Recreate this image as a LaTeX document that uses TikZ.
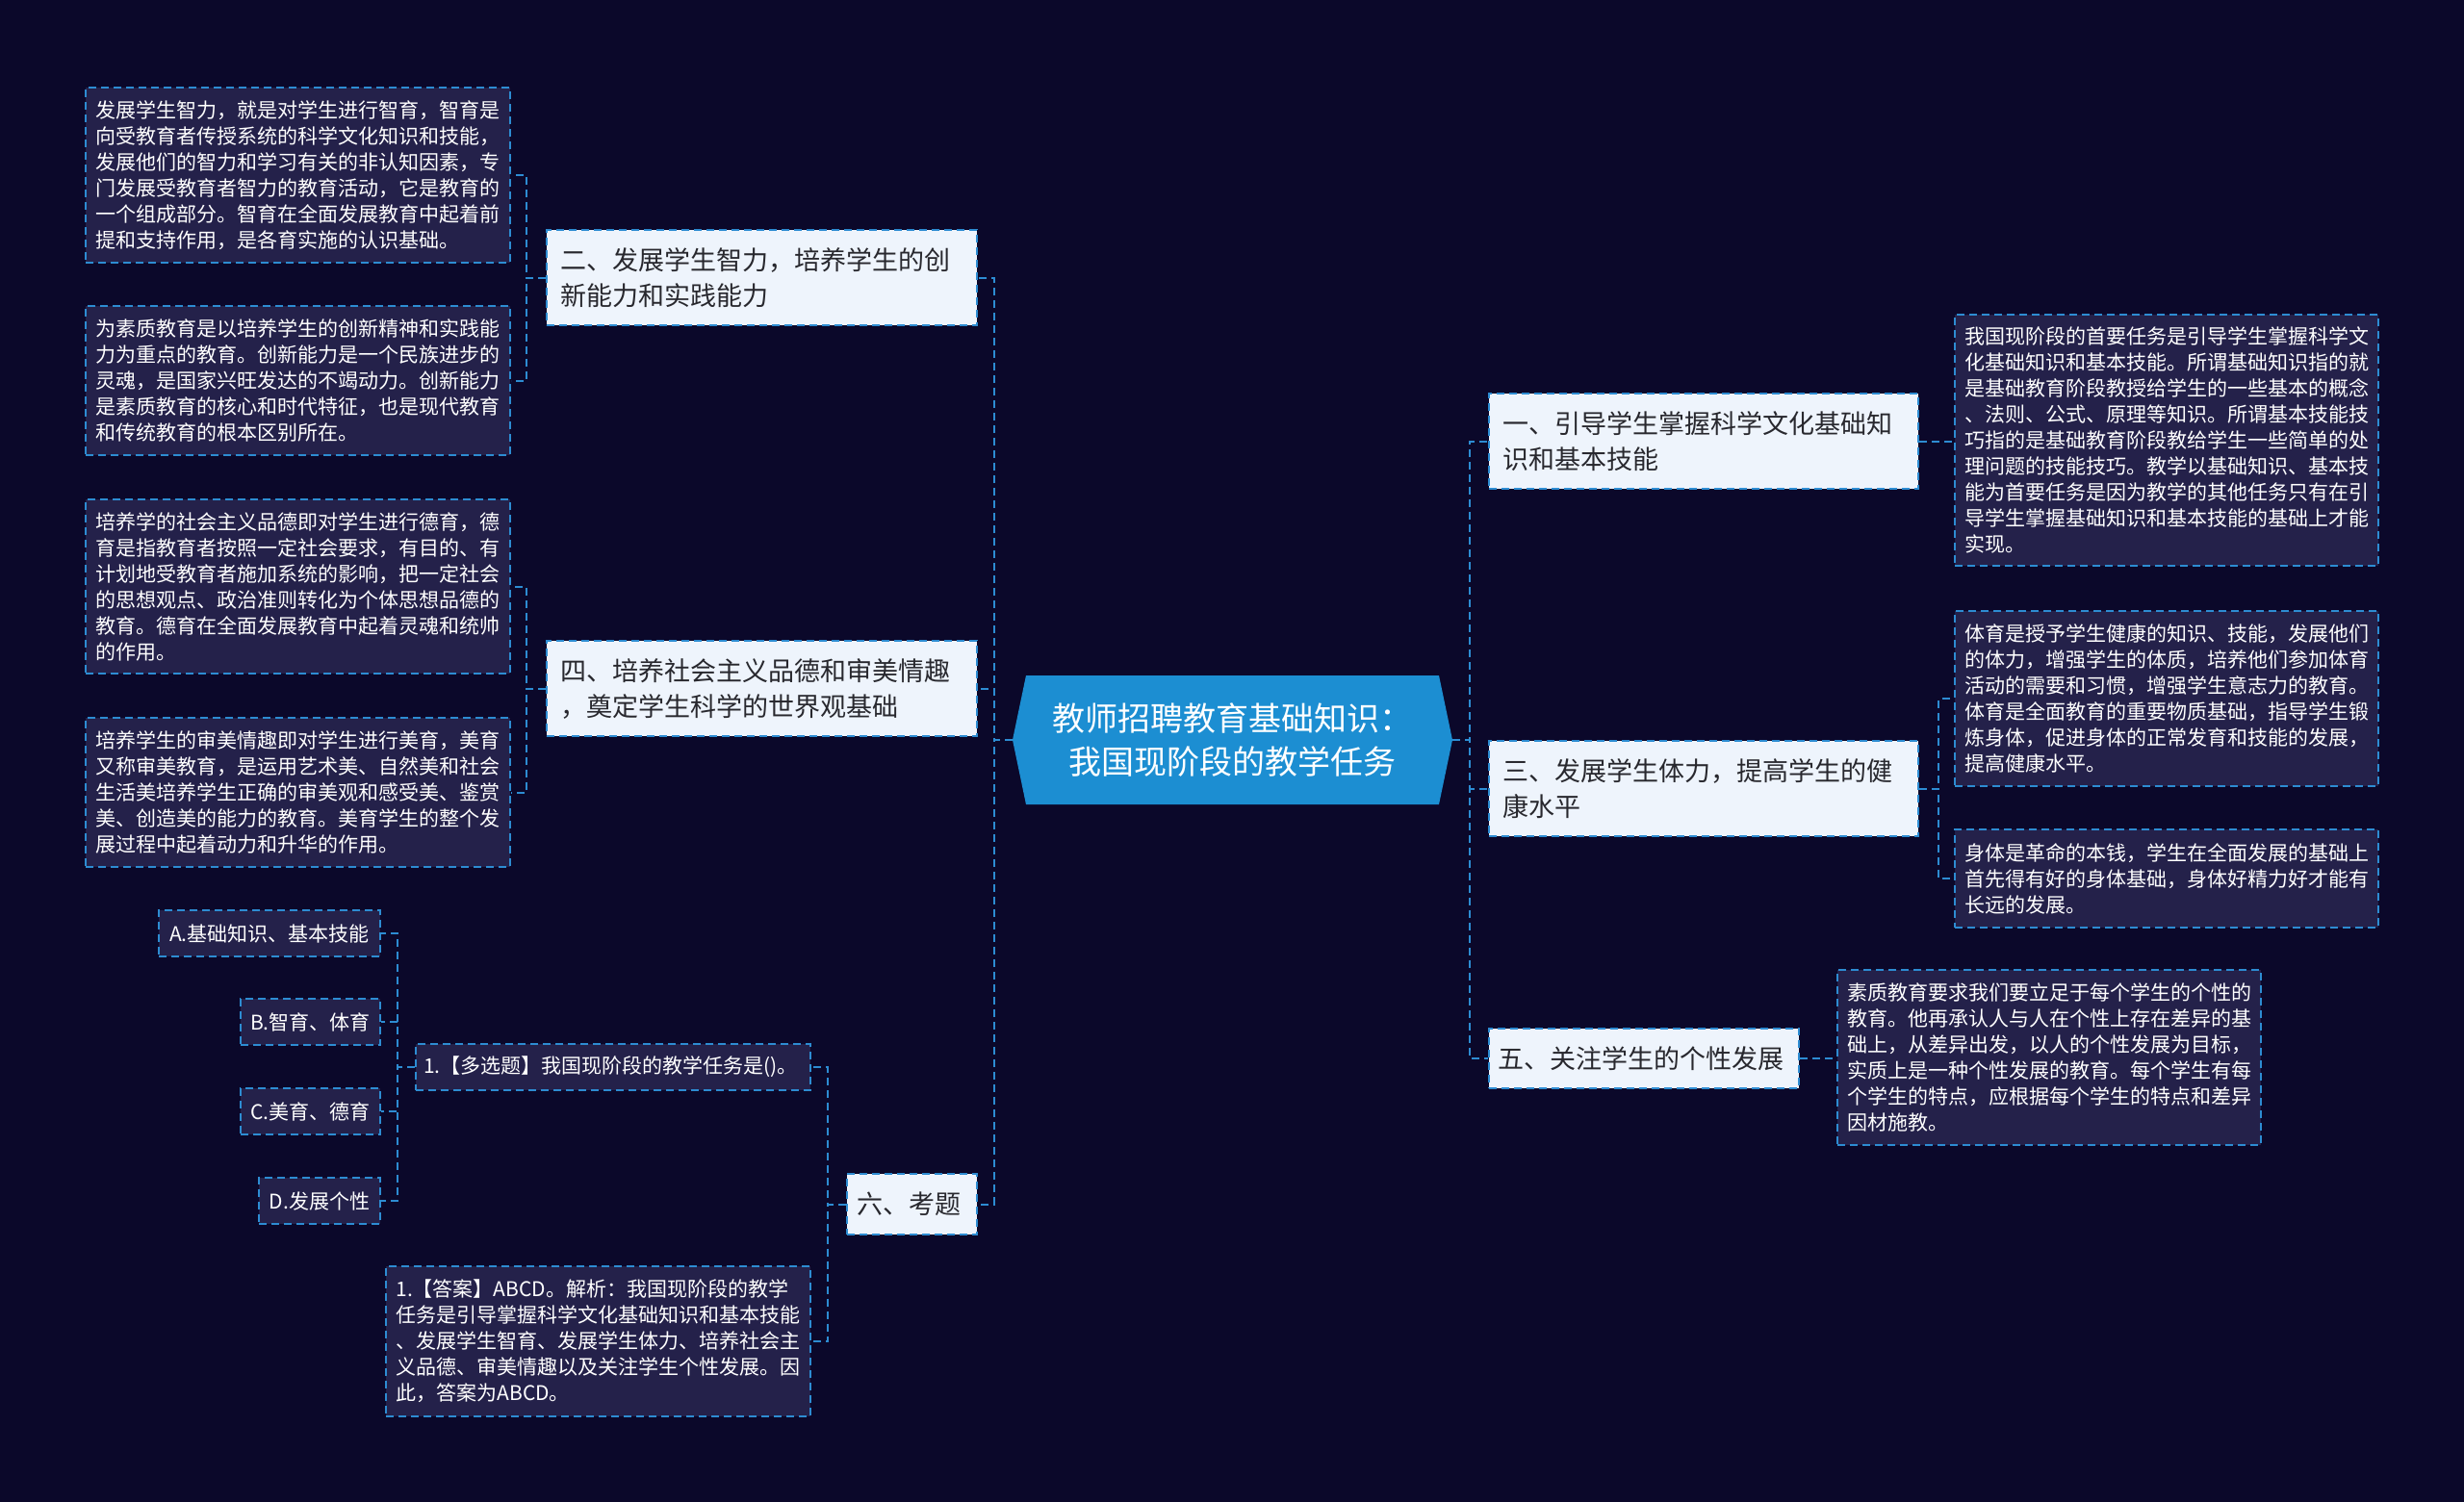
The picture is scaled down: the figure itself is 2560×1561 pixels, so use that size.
\documentclass[tikz,border=0pt]{standalone}
\usepackage{fontspec}
\setmainfont{Noto Sans CJK SC}
\usepackage{xcolor}
\definecolor{BgNavy}{RGB}{11,8,42}
\definecolor{LeafFill}{RGB}{36,33,74}
\definecolor{LinkBlue}{RGB}{45,140,210}
\definecolor{BranchFill}{RGB}{238,244,252}
\definecolor{RootBlue}{RGB}{28,142,210}
\definecolor{BranchText}{RGB}{40,40,46}
\usepackage{tikz}
\usetikzlibrary{
    arrows.meta,
    positioning,
    calc
}

\begin{document}
\begin{tikzpicture}[
    x=1pt,y=-1pt,
    link/.style={
        draw=LinkBlue,
        line width=2pt,
        dash pattern=on 8pt off 5pt
    },
    leaf/.style={
        link,
        fill=LeafFill,
        text=white,
        font=\fontsize{21pt}{27pt}\selectfont,
        align=left,
        inner sep=0pt,
        anchor=north west
    },
    branch/.style={
        link,
        fill=BranchFill,
        text=BranchText,
        font=\fontsize{27pt}{37pt}\selectfont,
        align=left,
        inner sep=0pt,
        anchor=north west
    }
]
%
    \useasboundingbox (0,0) rectangle (2560,1561);
    \fill[BgNavy] (0,0) rectangle (2560,1561);
%
    \fill[RootBlue]
    (1052,769) -- (1066,702) -- (1495,702)
    -- (1509,769) -- (1495,836) -- (1066,836) -- cycle;
%
    \node[
        text=white,
        font=\fontsize{34pt}{45pt}\selectfont,
        align=center,
        minimum width=457pt,
        minimum height=134pt,
        inner sep=0pt
    ] (root) at (1280.5,769) {
        教师招聘教育基础知识：\\ 我国现阶段的教学任务
    };
%
    % left side
    \node[branch, minimum width=447pt, minimum height=99pt, text width=419pt]
    (sec2) at (567,238) {
        二、发展学生智力，培养学生的创\\新能力和实践能力
    };
%
    \node[branch, minimum width=447pt, minimum height=99pt, text width=419pt]
    (sec4) at (567,665) {
        四、培养社会主义品德和审美情趣\\，奠定学生科学的世界观基础
    };
%
    \node[branch, minimum width=135pt, minimum height=63pt]
    (sec6) at (879,1219) {
        六、考题
    };
%
    \node[leaf, minimum width=441pt, minimum height=182pt]
    (zhiyu) at (88,90) {
        发展学生智力，就是对学生进行智育，智育是\\
        向受教育者传授系统的科学文化知识和技能，\\
        发展他们的智力和学习有关的非认知因素，专\\
        门发展受教育者智力的教育活动，它是教育的\\
        一个组成部分。智育在全面发展教育中起着前\\
        提和支持作用，是各育实施的认识基础。
    };
%
    \node[leaf, minimum width=441pt, minimum height=155pt]
    (chuangxin) at (88,317) {
        为素质教育是以培养学生的创新精神和实践能\\
        力为重点的教育。创新能力是一个民族进步的\\
        灵魂，是国家兴旺发达的不竭动力。创新能力\\
        是素质教育的核心和时代特征，也是现代教育\\
        和传统教育的根本区别所在。
    };
%
    \node[leaf, minimum width=441pt, minimum height=181pt]
    (deyu) at (88,518) {
        培养学的社会主义品德即对学生进行德育，德\\
        育是指教育者按照一定社会要求，有目的、有\\
        计划地受教育者施加系统的影响，把一定社会\\
        的思想观点、政治准则转化为个体思想品德的\\
        教育。德育在全面发展教育中起着灵魂和统帅\\
        的作用。
    };
%
    \node[leaf, minimum width=441pt, minimum height=155pt]
    (meiyu) at (88,745) {
        培养学生的审美情趣即对学生进行美育，美育\\
        又称审美教育，是运用艺术美、自然美和社会\\
        生活美培养学生正确的审美观和感受美、鉴赏\\
        美、创造美的能力的教育。美育学生的整个发\\
        展过程中起着动力和升华的作用。
    };
%
    \node[leaf, minimum width=410pt, minimum height=48pt]
    (question) at (431,1084) {
        1.【多选题】我国现阶段的教学任务是()。
    };
%
    \node[leaf, minimum width=441pt, minimum height=156pt]
    (answer) at (400,1315) {
        1.【答案】ABCD。解析：我国现阶段的教学\\
        任务是引导掌握科学文化基础知识和基本技能\\
        、发展学生智育、发展学生体力、培养社会主\\
        义品德、审美情趣以及关注学生个性发展。因\\
        此，答案为ABCD。
    };
%
    \node[leaf, minimum width=230pt, minimum height=48pt]
    (optA) at (164,945) {A.基础知识、基本技能};
    \node[leaf, minimum width=145pt, minimum height=48pt]
    (optB) at (249,1037) {B.智育、体育};
    \node[leaf, minimum width=145pt, minimum height=48pt]
    (optC) at (249,1130) {C.美育、德育};
    \node[leaf, minimum width=126pt, minimum height=48pt]
    (optD) at (268,1223) {D.发展个性};
%
    % right side
    \node[branch, minimum width=446pt, minimum height=99pt, text width=418pt]
    (sec1) at (1546,408) {
        一、引导学生掌握科学文化基础知\\识和基本技能
    };
%
    \node[branch, minimum width=446pt, minimum height=99pt, text width=418pt]
    (sec3) at (1546,769) {
        三、发展学生体力，提高学生的健\\康水平
    };
%
    \node[branch, minimum width=322pt, minimum height=62pt]
    (sec5) at (1546,1068) {
        五、关注学生的个性发展
    };
%
    \node[leaf, minimum width=440pt, minimum height=261pt]
    (jichu) at (2030,326) {
        我国现阶段的首要任务是引导学生掌握科学文\\
        化基础知识和基本技能。所谓基础知识指的就\\
        是基础教育阶段教授给学生的一些基本的概念\\
        、法则、公式、原理等知识。所谓基本技能技\\
        巧指的是基础教育阶段教给学生一些简单的处\\
        理问题的技能技巧。教学以基础知识、基本技\\
        能为首要任务是因为教学的其他任务只有在引\\
        导学生掌握基础知识和基本技能的基础上才能\\
        实现。
    };
%
    \node[leaf, minimum width=440pt, minimum height=182pt]
    (tiyu) at (2030,634) {
        体育是授予学生健康的知识、技能，发展他们\\
        的体力，增强学生的体质，培养他们参加体育\\
        活动的需要和习惯，增强学生意志力的教育。\\
        体育是全面教育的重要物质基础，指导学生锻\\
        炼身体，促进身体的正常发育和技能的发展，\\
        提高健康水平。
    };
%
    \node[leaf, minimum width=440pt, minimum height=102pt]
    (shenti) at (2030,861) {
        身体是革命的本钱，学生在全面发展的基础上\\
        首先得有好的身体基础，身体好精力好才能有\\
        长远的发展。
    };
%
    \node[leaf, minimum width=440pt, minimum height=182pt]
    (gexing) at (1908,1007) {
        素质教育要求我们要立足于每个学生的个性的\\
        教育。他再承认人与人在个性上存在差异的基\\
        础上，从差异出发，以人的个性发展为目标，\\
        实质上是一种个性发展的教育。每个学生有每\\
        个学生的特点，应根据每个学生的特点和差异\\
        因材施教。
    };
%
    % connectors
    \draw[link] (root.west) -- ++(-19,0) |- (sec2.east);
    \draw[link] (root.west) -- ++(-19,0) |- (sec4.east);
    \draw[link] (root.west) -- ++(-19,0) |- (sec6.east);
    \draw[link] (root.east) -- ++(18,0) |- (sec1.west);
    \draw[link] (root.east) -- ++(18,0) |- (sec3.west);
    \draw[link] (root.east) -- ++(18,0) |- (sec5.west);
%
    \draw[link] (sec2.west) -- ++(-20,0) |- (zhiyu.east);
    \draw[link] (sec2.west) -- ++(-20,0) |- (chuangxin.east);
    \draw[link] (sec4.west) -- ++(-20,0) |- (deyu.east);
    \draw[link] (sec4.west) -- ++(-20,0) |- (meiyu.east);
    \draw[link] (sec6.west) -- ++(-19,0) |- (question.east);
    \draw[link] (sec6.west) -- ++(-19,0) |- (answer.east);
%
    \foreach \opt in {optA,optB,optC,optD}
        \draw[link] (question.west) -- ++(-18,0) |- (\opt.east);
%
    \draw[link] (sec1.east) -- (sec1.east -| jichu.west);
    \draw[link] (sec3.east) -- ++(20,0) |- (tiyu.west);
    \draw[link] (sec3.east) -- ++(20,0) |- (shenti.west);
    \draw[link] (sec5.east) -- (sec5.east -| gexing.west);
%
\end{tikzpicture}
\end{document}
